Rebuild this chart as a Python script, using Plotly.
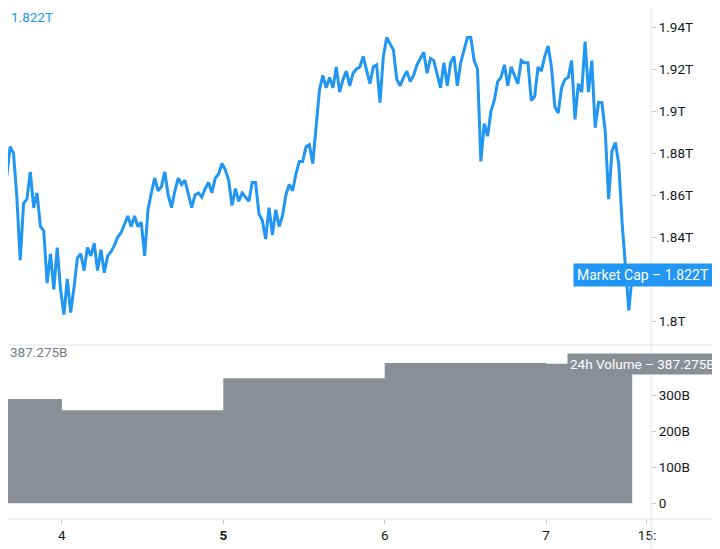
import pandas as pd
import plotly.graph_objects as go

# TradingView-like colours
COLORS = {
    'blue': '#2196F3',
    'volume': '#8B8E96',
    'grey_text': '#787B86',
    'text': '#131722',
    'line': '#E0E3EB',
}

# market cap, one reading every 30 minutes (trillions USD)
start_time = '2021-03-03 14:48'
market_cap = [
    1.888, 1.886, 1.869, 1.883, 1.880, 1.859, 1.829, 1.856, 1.858, 1.871,
    1.854, 1.861, 1.845, 1.843, 1.818, 1.832, 1.815, 1.835, 1.815, 1.803,
    1.820, 1.804, 1.816, 1.830, 1.832, 1.824, 1.835, 1.831, 1.837, 1.824,
    1.834, 1.823, 1.831, 1.833, 1.836, 1.840, 1.842, 1.846, 1.850, 1.845,
    1.850, 1.845, 1.847, 1.831, 1.853, 1.861, 1.868, 1.862, 1.864, 1.871,
    1.860, 1.854, 1.862, 1.868, 1.865, 1.867, 1.860, 1.854, 1.860, 1.861,
    1.859, 1.863, 1.866, 1.861, 1.868, 1.870, 1.875, 1.872, 1.867, 1.855,
    1.863, 1.857, 1.861, 1.859, 1.857, 1.866, 1.866, 1.851, 1.848, 1.839,
    1.854, 1.841, 1.853, 1.845, 1.850, 1.860, 1.865, 1.862, 1.870, 1.876,
    1.876, 1.883, 1.884, 1.875, 1.892, 1.910, 1.917, 1.911, 1.916, 1.911,
    1.921, 1.909, 1.915, 1.919, 1.912, 1.918, 1.920, 1.921, 1.926, 1.920,
    1.913, 1.921, 1.922, 1.904, 1.926, 1.935, 1.932, 1.929, 1.915, 1.912,
    1.916, 1.919, 1.914, 1.917, 1.922, 1.925, 1.928, 1.918, 1.925, 1.924,
    1.917, 1.911, 1.923, 1.912, 1.923, 1.926, 1.912, 1.923, 1.929, 1.935,
    1.935, 1.924, 1.920, 1.876, 1.894, 1.888, 1.900, 1.905, 1.914, 1.916,
    1.922, 1.912, 1.921, 1.917, 1.913, 1.924, 1.923, 1.923, 1.905, 1.907,
    1.921, 1.919, 1.926, 1.931, 1.921, 1.902, 1.899, 1.911, 1.915, 1.916,
    1.924, 1.896, 1.913, 1.909, 1.933, 1.909, 1.924, 1.892, 1.904, 1.904,
    1.890, 1.858, 1.881, 1.885, 1.875, 1.847, 1.828, 1.805, 1.822,
]

# 24h volume per day (billions USD)
volume_days = ['2021-03-03 14:48', '2021-03-04 00:00', '2021-03-05 00:00', '2021-03-06 00:00', '2021-03-07 00:00']
volume_vals = [289, 258, 347, 389, 387.275]

# 1.82T sits under the Market Cap label, so it is left out
cap_ticks = [1.80, 1.84, 1.86, 1.88, 1.90, 1.92, 1.94]
cap_labels = ['1.8T', '1.84T', '1.86T', '1.88T', '1.9T', '1.92T', '1.94T']
vol_ticks = [0, 100, 200, 300]
vol_labels = ['0', '100B', '200B', '300B']
x_ticks = ['2021-03-04', '2021-03-05', '2021-03-06', '2021-03-07', '2021-03-07 15:00']
x_labels = ['4', '<b>5</b>', '6', '7', '15:']

times = pd.date_range(start_time, periods=len(market_cap), freq='30min')
vol_x = list(pd.to_datetime(volume_days, format='%Y-%m-%d %H:%M')) + [times[-1]]
vol_y = volume_vals + [volume_vals[-1]]

fig = go.Figure()
fig.add_trace(go.Scatter(
    x=times, y=market_cap, mode='lines', yaxis='y',
    line=dict(color=COLORS['blue'], width=3), hoverinfo='skip'
))
fig.add_trace(go.Scatter(
    x=vol_x, y=vol_y, mode='lines', yaxis='y2', line_shape='hv',
    line=dict(width=0, color=COLORS['volume']), fill='tozeroy',
    fillcolor=COLORS['volume'], hoverinfo='skip'
))

# page body adds an 8px offset, so the figure is 8px smaller each way
W, H = 712, 541
PW, PH = 643, 511   # plot area in px
split = 174 / PH
axis_font = dict(family='Roboto', size=13.5, color=COLORS['text'])


def px_x(ref_x):
    return (ref_x - 8) / PW


def px_y(ref_y):
    return 1 - (ref_y - 8) / PH


fig.update_layout(
    width=W, height=H,
    margin=dict(l=0, r=W - PW, t=0, b=H - PH, autoexpand=False),
    paper_bgcolor='#FFFFFF', plot_bgcolor='#FFFFFF',
    showlegend=False,
    font=axis_font,
    xaxis=dict(
        type='date', anchor='y2', domain=[0, 1],
        range=['2021-03-03 15:59', '2021-03-07 15:36'],
        tickmode='array', tickvals=x_ticks, ticktext=x_labels,
        ticks='outside', ticklen=4, tickcolor='#C8CAD0',
        showgrid=False, zeroline=False, showline=False, tickfont=axis_font,
    ),
    yaxis=dict(
        domain=[split, 1], side='right', anchor='x',
        range=[1.78857, 1.94905],
        tickmode='array', tickvals=cap_ticks, ticktext=cap_labels,
        ticks='outside', ticklen=4, tickcolor='#C8CAD0',
        showgrid=False, zeroline=False, showline=False, tickfont=axis_font,
    ),
    yaxis2=dict(
        domain=[0, split], side='right', anchor='x',
        range=[-44, 439],
        tickmode='array', tickvals=vol_ticks, ticktext=vol_labels,
        ticks='outside', ticklen=4, tickcolor='#C8CAD0',
        showgrid=False, zeroline=False, showline=False, tickfont=axis_font,
    ),
)

# frame lines: right axis, pane separator, time axis
line_style = dict(color=COLORS['line'], width=1)
fig.add_shape(type='line', xref='paper', yref='paper', x0=1, x1=1, y0=-(H - PH) / PH, y1=1, line=line_style)
fig.add_shape(type='line', xref='paper', yref='paper', x0=0, x1=W / PW, y0=split, y1=split, line=line_style)
fig.add_shape(type='line', xref='paper', yref='paper', x0=0, x1=W / PW, y0=0, y1=0, line=line_style)

# legend values in the panes
fig.add_annotation(
    xref='paper', yref='paper', x=px_x(9), y=px_y(17), xanchor='left', yanchor='middle',
    text=f'{market_cap[-1]}T', showarrow=False,
    font=dict(family='Roboto', size=13.5, color=COLORS['blue'])
)
fig.add_annotation(
    xref='paper', yref='paper', x=px_x(8), y=px_y(352), xanchor='left', yanchor='middle',
    text=f'{volume_vals[-1]}B', showarrow=False,
    font=dict(family='Roboto', size=13.5, color=COLORS['grey_text'])
)

# price labels on the right scale
fig.add_annotation(
    xref='paper', yref='y', x=px_x(713), y=market_cap[-1], xanchor='right', yanchor='middle',
    text=f'Market Cap \u2013 {market_cap[-1]}T', showarrow=False, bgcolor=COLORS['blue'],
    borderpad=3, font=dict(family='Roboto', size=14, color='#FFFFFF')
)
fig.add_annotation(
    xref='paper', yref='y2', x=px_x(718), y=volume_vals[-1], xanchor='right', yanchor='middle',
    text=f'24h Volume \u2013 {volume_vals[-1]}B', showarrow=False, bgcolor=COLORS['volume'],
    borderpad=2, font=dict(family='Roboto', size=13.5, color='#FFFFFF')
)

fig.write_html('out.html')
